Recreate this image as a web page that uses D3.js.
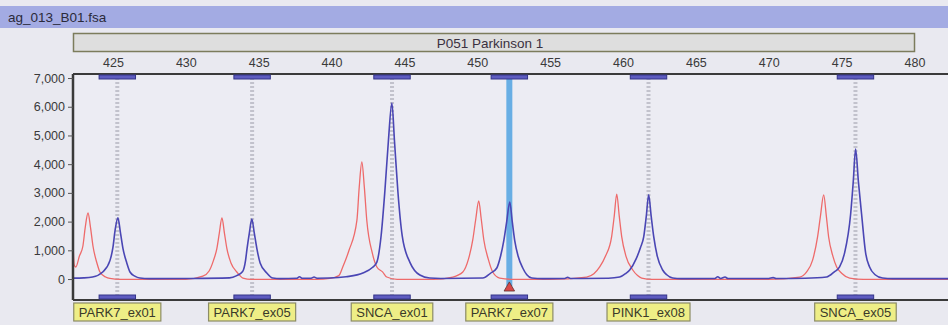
<!DOCTYPE html>
<html>
<head>
<meta charset="utf-8">
<script src="https://cdn.jsdelivr.net/npm/d3@7/dist/d3.min.js"></script>
<style>
  body { margin: 0; background: #e9e9f0; }
  svg { display: block; font-family: "Liberation Sans", Arial, sans-serif; }
</style>
</head>
<body>
<div id="container"></div>
<script>
// trace file and panel
const fileTitle = "ag_013_B01.fsa";
const panelName = "P051 Parkinson 1";

// x axis ticks (bp) and y axis ticks (rfu)
const sizeTicks = [425, 430, 435, 440, 445, 450, 455, 460, 465, 470, 475, 480];
const rfuTicks = [0, 1000, 2000, 3000, 4000, 5000, 6000, 7000];

// bins: centre (bp) and probe name
const binCenters = [425.3, 434.55, 444.15, 452.2, 461.75, 475.95];
const binNames = ["PARK7_ex01", "PARK7_ex05", "SNCA_ex01", "PARK7_ex07", "PINK1_ex08", "SNCA_ex05"];
const selectedBin = 3;

// blue trace (sample), [bp, rfu]
const blueTrace = [
  [422.26, 30], [423.0, 40], [423.6, 70], [424.3, 245], [424.8, 650], [425.0, 1100], [425.15, 1700],
  [425.34, 2130], [425.52, 1600], [425.69, 1060], [425.95, 560], [426.17, 245], [426.5, 100],
  [426.85, 35], [427.5, 15], [430.0, 20], [433.0, 40], [433.5, 120], [433.9, 260], [434.1, 650],
  [434.2, 1050], [434.36, 1600], [434.53, 2090], [434.7, 1600], [434.88, 1050], [435.1, 560],
  [435.56, 210], [435.97, 35], [436.5, 15], [437.6, 25], [437.8, 80], [438.0, 25], [438.6, 30],
  [438.8, 70], [439.0, 30], [439.88, 35], [441.0, 80], [442.15, 210], [442.8, 400], [443.11, 590],
  [443.4, 1500], [443.66, 3065], [443.9, 4800], [444.14, 6130], [444.32, 4800], [444.55, 3065],
  [444.85, 1500], [445.37, 590], [445.7, 300], [446.06, 140], [446.74, 35], [447.5, 20],
  [450.38, 35], [450.9, 200], [451.34, 385], [451.6, 800], [451.82, 1340], [452.02, 2000],
  [452.23, 2680], [452.4, 2000], [452.57, 1340], [452.8, 800], [453.12, 385], [453.4, 150],
  [453.74, 35], [454.5, 15], [456.0, 20], [456.2, 60], [456.4, 20], [459.0, 30], [459.77, 70],
  [460.2, 200], [460.46, 315], [460.9, 700], [461.2, 1100], [461.42, 1465], [461.6, 2200],
  [461.76, 2930], [461.93, 2200], [462.11, 1465], [462.35, 800], [462.72, 315], [463.0, 150],
  [463.41, 35], [464.0, 15], [466.3, 20], [466.5, 80], [466.7, 20], [467.0, 70], [467.2, 20],
  [470.0, 20], [470.3, 50], [470.5, 20], [472.5, 30], [473.97, 70], [474.5, 250], [474.86, 420],
  [475.2, 900], [475.62, 2265], [475.8, 3400], [475.96, 4530], [476.15, 3400], [476.37, 2265],
  [476.65, 900], [476.92, 420], [477.3, 150], [477.81, 35], [478.5, 15], [482.3, 15]
];

// red trace (size standard), [bp, rfu]
const redTrace = [
  [422.26, 1300], [422.34, 500], [422.45, 420], [422.7, 800], [422.94, 1150], [423.1, 1800],
  [423.29, 2300], [423.46, 1800], [423.63, 1150], [423.9, 560], [424.11, 245], [424.5, 70],
  [424.79, 20], [425.5, -10], [430.0, -10], [431.17, 100], [431.6, 280], [431.9, 650],
  [432.13, 1060], [432.3, 1600], [432.48, 2130], [432.65, 1600], [432.82, 1060], [433.1, 560],
  [433.5, 245], [433.92, 35], [434.5, -10], [439.0, -10], [439.88, 20], [440.5, 120],
  [440.77, 420], [441.2, 1000], [441.74, 2040], [441.9, 3200], [442.08, 4075], [442.25, 3200],
  [442.42, 2040], [442.8, 900], [443.11, 420], [443.5, 250], [443.79, 70], [444.5, -10],
  [447.0, -10], [448.32, 70], [449.01, 245], [449.4, 700], [449.69, 1360], [449.9, 2100],
  [450.1, 2720], [450.27, 2100], [450.45, 1360], [450.75, 700], [451.06, 245], [451.54, 35],
  [452.5, -10], [455.0, -10], [457.51, 70], [458.0, 180], [458.4, 420], [458.8, 800],
  [459.22, 1480], [459.4, 2200], [459.57, 2960], [459.74, 2200], [459.91, 1480], [460.2, 800],
  [460.67, 315], [461.0, 120], [461.28, 35], [462.0, -10], [470.0, -10], [472.12, 70],
  [472.6, 250], [473.01, 660], [473.35, 1465], [473.55, 2200], [473.77, 2930], [473.95, 2200],
  [474.11, 1465], [474.4, 800], [474.66, 420], [475.0, 200], [475.55, 35], [476.5, -10],
  [482.3, -10]
];

const W = 948, H = 325;
const plot = { left: 73, right: 948, top: 74, bottom: 300 };
const fontSize = 12.5;

const svg = d3.select("#container").append("svg")
  .attr("width", W)
  .attr("height", H);

// background
svg.append("rect").attr("width", W).attr("height", H).attr("fill", "#e9e9f0");

// title bar
svg.append("rect")
  .attr("x", 0).attr("y", 6).attr("width", W).attr("height", 22)
  .attr("fill", "#a3abe3");
svg.append("text")
  .attr("x", 8).attr("y", 22)
  .attr("font-size", 13.5)
  .attr("fill", "#2a2a3a")
  .text(fileTitle);

// panel box
svg.append("rect")
  .attr("x", 73.5).attr("y", 33.5).attr("width", 841).attr("height", 18)
  .attr("fill", "#dedede")
  .attr("stroke", "#7c7c5c")
  .attr("stroke-width", 1.5);
svg.append("text")
  .attr("x", 490).attr("y", 47.5)
  .attr("text-anchor", "middle")
  .attr("font-size", 13.5)
  .attr("fill", "#3a3040")
  .text(panelName);

// scales
const x = d3.scaleLinear().domain([422.26, 482.3]).range([plot.left, plot.right]);
const y = d3.scaleLinear().domain([-730, 7140]).range([plot.bottom, plot.top]);

// plot background
svg.append("rect")
  .attr("x", plot.left).attr("y", plot.top)
  .attr("width", plot.right - plot.left).attr("height", plot.bottom - plot.top)
  .attr("fill", "#ececf3");

// bin centre lines (dotted gray)
svg.append("g").selectAll("line")
  .data(binCenters.filter((d, i) => i !== selectedBin))
  .join("line")
  .attr("x1", d => x(d)).attr("x2", d => x(d))
  .attr("y1", plot.top).attr("y2", plot.bottom)
  .attr("stroke", "#c2c2cc")
  .attr("stroke-width", 4)
  .attr("stroke-dasharray", "2,2");

// selected bin highlight
const selX = x(binCenters[selectedBin]);
svg.append("rect")
  .attr("x", selX - 3).attr("y", plot.top)
  .attr("width", 6).attr("height", 212)
  .attr("fill", "#68aee4");

// traces
svg.append("clipPath").attr("id", "plotClip")
  .append("rect")
  .attr("x", plot.left).attr("y", plot.top)
  .attr("width", plot.right - plot.left).attr("height", plot.bottom - plot.top);

const line = d3.line()
  .x(d => x(d[0]))
  .y(d => y(d[1]))
  .curve(d3.curveMonotoneX);

const traces = svg.append("g").attr("clip-path", "url(#plotClip)");
traces.append("path")
  .datum(redTrace)
  .attr("d", line)
  .attr("fill", "none")
  .attr("stroke", "#ee6a6a")
  .attr("stroke-width", 1.3);
traces.append("path")
  .datum(blueTrace)
  .attr("d", line)
  .attr("fill", "none")
  .attr("stroke", "#4a46b4")
  .attr("stroke-width", 1.6);

// selected peak marker
svg.append("path")
  .attr("d", d3.symbol().type(d3.symbolTriangle).size(48))
  .attr("transform", `translate(${selX},${288})`)
  .attr("fill", "#d84848")
  .attr("stroke", "#603030")
  .attr("stroke-width", 0.8);

// frame lines
svg.append("line")
  .attr("x1", plot.left).attr("x2", plot.right)
  .attr("y1", plot.top).attr("y2", plot.top)
  .attr("stroke", "#3a3a3a").attr("stroke-width", 2);
svg.append("line")
  .attr("x1", plot.left).attr("x2", plot.right)
  .attr("y1", plot.bottom).attr("y2", plot.bottom)
  .attr("stroke", "#3a3a3a").attr("stroke-width", 2);

// bin brackets, top and bottom
const binHalf = 1.25;
[plot.top + 1, plot.bottom - 5].forEach(function(by) {
  svg.append("g").selectAll("rect")
    .data(binCenters)
    .join("rect")
    .attr("x", d => x(d - binHalf)).attr("y", by)
    .attr("width", d => x(d + binHalf) - x(d - binHalf)).attr("height", 4)
    .attr("fill", "#5e5cc0")
    .attr("stroke", "#34348a")
    .attr("stroke-width", 1);
});

// y axis
const yAxis = svg.append("g")
  .attr("transform", `translate(${plot.left},0)`)
  .call(d3.axisLeft(y).tickValues(rfuTicks).tickFormat(d3.format(",")).tickSize(5).tickPadding(3));
yAxis.select(".domain")
  .attr("d", `M0,${plot.top}V${plot.bottom}`)
  .attr("stroke", "#3a3a3a").attr("stroke-width", 2.5);
yAxis.selectAll(".tick line").attr("stroke", "#555");
yAxis.selectAll("text")
  .attr("font-size", fontSize)
  .attr("fill", "#3a3a3a")
  .attr("font-family", "Liberation Sans, Arial, sans-serif");

// x axis (bp) above plot
const xAxis = svg.append("g")
  .attr("transform", `translate(0,${plot.top - 6})`)
  .call(d3.axisTop(x).tickValues(sizeTicks).tickSize(0).tickPadding(1));
xAxis.select(".domain").remove();
xAxis.selectAll("text")
  .attr("font-size", fontSize)
  .attr("fill", "#3a3a3a")
  .attr("font-family", "Liberation Sans, Arial, sans-serif");

// bin name labels
const labels = svg.append("g").selectAll("g")
  .data(binCenters)
  .join("g")
  .attr("transform", d => `translate(${x(d)},${303})`);
labels.append("rect")
  .attr("fill", "#eeee86")
  .attr("stroke", "#8c8c66")
  .attr("stroke-width", 1.2)
  .attr("y", 0).attr("height", 18);
labels.append("text")
  .attr("text-anchor", "middle")
  .attr("y", 14)
  .attr("font-size", 13)
  .attr("fill", "#3a3a2a")
  .text((d, i) => binNames[i]);
labels.each(function() {
  const g = d3.select(this);
  const w = g.select("text").node().getComputedTextLength() + 10;
  g.select("rect").attr("x", -w / 2).attr("width", w);
});
</script>
</body>
</html>
